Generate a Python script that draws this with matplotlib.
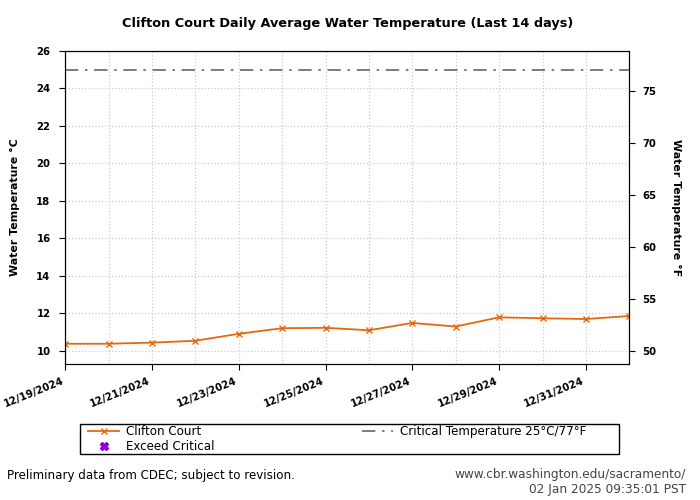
import datetime as dt
import matplotlib
matplotlib.use('Agg')
import matplotlib.pyplot as plt
import matplotlib.dates as mdates
from matplotlib.patches import Rectangle
from matplotlib.ticker import NullFormatter

plt.rcParams['font.family'] = ['DejaVu Sans']

# daily average temperature, deg C
start = dt.date(2024, 12, 19)
dates = [start + dt.timedelta(days=i) for i in range(14)]
temps_c = [10.38, 10.38, 10.44, 10.54, 10.91, 11.21, 11.23,
           11.10, 11.49, 11.30, 11.79, 11.74, 11.70, 11.86]
critical_c = 25
tick_dates = dates[::2]

fig = plt.figure(figsize=(7, 5), dpi=100)
ax = fig.add_axes([0.093, 0.272, 0.806, 0.626])

ax.plot(dates, temps_c, color='#e4690c', marker='x', markersize=5,
        linewidth=1.3, label='Clifton Court')
ax.plot([], [], linestyle='none', marker='X', color='#8a00d4',
        markersize=6, label='Exceed Critical')
ax.axhline(critical_c, color='#666666', linestyle=(0, (8, 4, 1.5, 4)),
           linewidth=1.2, label='Critical Temperature 25\u00b0C/77\u00b0F')

ax.set_xlim(dates[0], dates[-1])
ax.set_ylim(9.3, 26)
ax.set_yticks(range(10, 27, 2))
ax.set_xticks(tick_dates)
ax.xaxis.set_major_formatter(mdates.DateFormatter('%m/%d/%Y'))
ax.xaxis.set_minor_locator(mdates.DayLocator())
ax.xaxis.set_minor_formatter(NullFormatter())
ax.tick_params(axis='x', which='minor', length=0)
ax.tick_params(labelsize=7.3, length=4.5)
ax.tick_params(axis='y', pad=6)
ax.tick_params(axis='x', pad=4)
plt.setp(ax.get_xticklabels(), rotation=22, ha='right', fontweight='bold')
plt.setp(ax.get_yticklabels(), fontweight='bold')
ax.grid(True, which='both', linestyle=':', color='#cccccc', linewidth=0.9)
ax.set_ylabel('Water Temperature \u00b0C', fontweight='bold', fontsize=7.9,
              va='center')
ax.yaxis.set_label_coords(-0.0887, 0.5)
ax.set_title('Clifton Court Daily Average Water Temperature (Last 14 days)',
             fontweight='bold', fontsize=9.3, pad=17)

ax2 = ax.twinx()
lo, hi = ax.get_ylim()
ax2.set_ylim(lo * 9 / 5 + 32, hi * 9 / 5 + 32)
ax2.set_yticks(range(50, 80, 5))
ax2.tick_params(labelsize=7.3, length=4.5, pad=5)
plt.setp(ax2.get_yticklabels(), fontweight='bold')
ax2.set_ylabel('Water Temperature \u00b0F', fontweight='bold', fontsize=7.9,
               rotation=270, va='center')
ax2.yaxis.set_label_coords(1.0833, 0.5)

# legend box drawn by hand so its width matches the plot area below
fig.patches.append(Rectangle((80 / 700, 1 - 454 / 500), 539 / 700, 30 / 500,
                             transform=fig.transFigure, fill=False,
                             edgecolor='black', linewidth=1.0))
h, l = ax.get_legend_handles_labels()
leg = fig.legend(h, l, ncol=2, loc='upper left',
                 bbox_to_anchor=(88 / 700, 1 - 425 / 500),
                 borderaxespad=0, borderpad=0, fontsize=8.6, frameon=False,
                 labelspacing=0.2, handlelength=2.6, handletextpad=0.6,
                 columnspacing=12.3)

fig.text(0.01, 0.05, 'Preliminary data from CDEC; subject to revision.',
         fontsize=8.6, va='center')
fig.text(0.98, 0.064, 'www.cbr.washington.edu/sacramento/\n02 Jan 2025 09:35:01 PST',
         fontsize=8.75, ha='right', va='top', color='#444444', linespacing=1.2)

fig.savefig('out.png', dpi=100)
